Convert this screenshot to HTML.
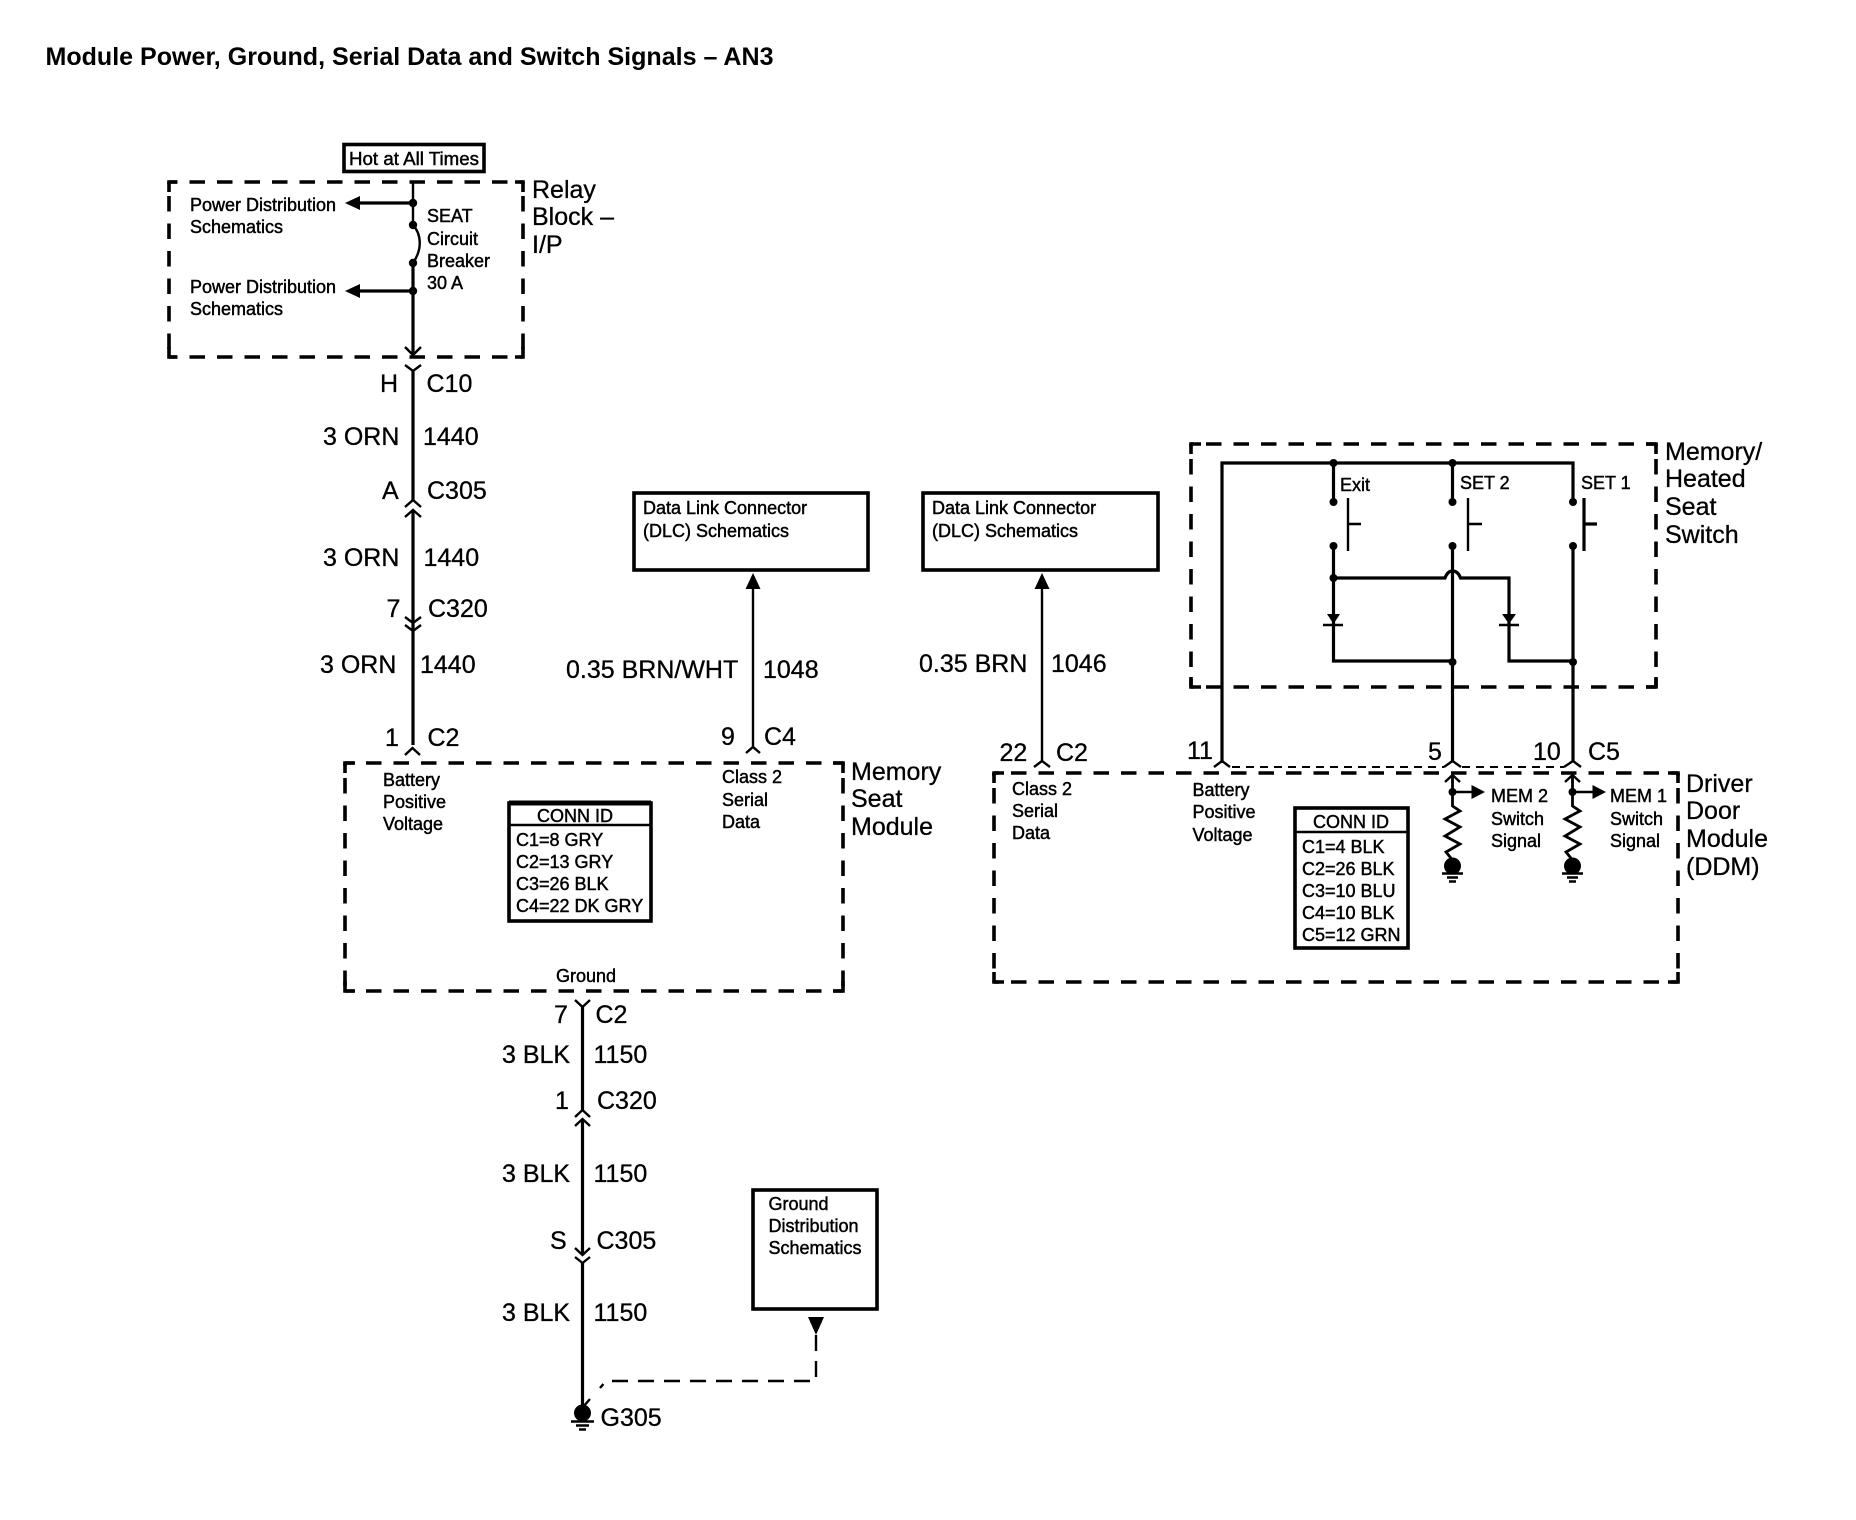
<!DOCTYPE html>
<html><head><meta charset="utf-8"><style>
html,body{margin:0;padding:0;background:#fff}
svg{display:block}
text{font-family:"Liberation Sans",sans-serif;fill:#000}
.l{font-size:25px;stroke:#000;stroke-width:.3}
.s{font-size:18px;stroke:#000;stroke-width:.45}
.w{stroke:#000;stroke-width:3.2;fill:none}
.t{stroke:#000;stroke-width:2.4;fill:none}
.c{stroke:#000;stroke-width:2.4;fill:none}
.d{stroke:#000;stroke-width:3.6;fill:none;stroke-dasharray:15.5 12}
.b{stroke:#000;stroke-width:3.6;fill:none}
</style></head><body>
<svg width="1856" height="1520" viewBox="0 0 1856 1520" xmlns="http://www.w3.org/2000/svg">
<rect width="1856" height="1520" fill="#fff"/>
<text x="45.500" y="65" font-size="25" font-weight="bold" textLength="728" lengthAdjust="spacingAndGlyphs">Module Power, Ground, Serial Data and Switch Signals – AN3</text>

<!-- Relay block -->
<rect x="344" y="144.500" width="140" height="27" class="b"/>
<text class="s" x="349" y="165" textLength="130" lengthAdjust="spacingAndGlyphs">Hot at All Times</text>
<path class="d" stroke-dashoffset="7" d="M169 182H523"/>
<path class="d" stroke-dashoffset="7" d="M169 357H523"/>
<path class="d" stroke-dashoffset="-14" d="M169 182V357"/>
<path class="d" stroke-dashoffset="-14" d="M523 182V357"/>
<path class="b" d="M169 192V182H177M515 182H523V192M169 347V357H177M515 357H523V347"/>
<text class="s" x="190" y="211">Power Distribution</text>
<text class="s" x="190" y="233">Schematics</text>
<text class="s" x="190" y="293">Power Distribution</text>
<text class="s" x="190" y="315">Schematics</text>
<text class="s" x="427" y="222">SEAT</text>
<text class="s" x="427" y="245">Circuit</text>
<text class="s" x="427" y="267">Breaker</text>
<text class="s" x="427" y="289">30 A</text>
<text class="l" x="532" y="198">Relay</text>
<text class="l" x="532" y="225">Block –</text>
<text class="l" x="532" y="253">I/P</text>
<path class="t" d="M413 182V225"/>
<path class="t" d="M413 225C422 235 422 250 413 263"/>
<path class="w" d="M413 263V354"/>
<path class="w" d="M413 203H358M413 291H358"/>
<path d="M345 203L360 196V210ZM345 291L360 284V298Z"/>
<circle cx="413" cy="203" r="4.200"/><circle cx="413" cy="225" r="4.200"/><circle cx="413" cy="263" r="4.200"/><circle cx="413" cy="291" r="4.200"/>
<path class="c" d="M405 347L413 355L421 347M405 365L413 371L421 365"/>

<!-- Left harness upper -->
<path class="w" d="M413 371V500M413 510V745"/>
<path class="c" d="M405 507L413 500L421 507M405 517L413 510L421 517"/>
<path class="c" d="M405 617L413 623L421 617M405 625L413 631L421 625"/>
<path class="c" d="M405 755L412.500 748L420 755"/>
<text class="l" x="380" y="392">H</text><text class="l" x="426.500" y="392">C10</text>
<text class="l" x="323" y="445">3 ORN</text><text class="l" x="423" y="445">1440</text>
<text class="l" x="382" y="499">A</text><text class="l" x="427" y="499">C305</text>
<text class="l" x="323" y="566">3 ORN</text><text class="l" x="423.500" y="566">1440</text>
<text class="l" x="386.500" y="617">7</text><text class="l" x="428" y="617">C320</text>
<text class="l" x="320" y="673">3 ORN</text><text class="l" x="420" y="673">1440</text>
<text class="l" x="385" y="746">1</text><text class="l" x="427.500" y="746">C2</text>

<!-- Memory seat module -->
<path class="d" stroke-dashoffset="-21" d="M345 763H843"/>
<path class="d" stroke-dashoffset="-21" d="M345 991H843"/>
<path class="d" stroke-dashoffset="-15" d="M345 763V991"/>
<path class="d" stroke-dashoffset="-15" d="M843 763V991"/>
<path class="b" d="M345 773V763H355M833 763H843V773M345 981V991H355M833 991H843V981"/>
<text class="s" x="383" y="786">Battery</text><text class="s" x="383" y="808">Positive</text><text class="s" x="383" y="830">Voltage</text>
<text class="s" x="722" y="783">Class 2</text><text class="s" x="722" y="806">Serial</text><text class="s" x="722" y="828">Data</text>
<text class="s" x="556" y="982">Ground</text>
<text class="l" x="851" y="780">Memory</text><text class="l" x="851" y="807">Seat</text><text class="l" x="851" y="835">Module</text>
<rect x="509" y="803" width="142" height="118" class="b"/>
<path d="M509 803H651" stroke="#000" stroke-width="5"/>
<path class="t" d="M509 825H652" stroke-width="3"/>
<text class="s" x="537" y="822">CONN ID</text>
<text class="s" x="516" y="846">C1=8 GRY</text>
<text class="s" x="516" y="868">C2=13 GRY</text>
<text class="s" x="516" y="890">C3=26 BLK</text>
<text class="s" x="516" y="912">C4=22 DK GRY</text>

<!-- DLC 1 -->
<rect x="634" y="493" width="234" height="77" class="b"/>
<text class="s" x="643" y="514">Data Link Connector</text><text class="s" x="643" y="537">(DLC) Schematics</text>
<path d="M753 573L745.500 589H760.500Z"/>
<path class="t" d="M753 585V748"/>
<path class="c" d="M746 753L753 747L760 753"/>
<text class="l" x="566" y="678">0.35 BRN/WHT</text><text class="l" x="763" y="678">1048</text>
<text class="l" x="721" y="745">9</text><text class="l" x="764" y="745">C4</text>

<!-- DLC 2 -->
<rect x="923" y="493" width="235" height="77" class="b"/>
<text class="s" x="932" y="514">Data Link Connector</text><text class="s" x="932" y="537">(DLC) Schematics</text>
<path d="M1042 573L1034.500 589H1049.500Z"/>
<path class="t" d="M1042 585V761"/>
<path class="c" d="M1034 767L1042 761L1050 767"/>
<text class="l" x="919" y="672">0.35 BRN</text><text class="l" x="1051" y="672">1046</text>
<text class="l" x="999.500" y="761">22</text><text class="l" x="1056" y="761">C2</text>

<!-- Lower harness -->
<path class="c" d="M575 1000L582.500 1007L590 1000"/>
<path class="w" d="M582.500 1007V1110M582.500 1119V1255M582.500 1263V1410"/>
<path class="c" d="M575 1117L582.500 1110L590 1117M575 1126L582.500 1119L590 1126"/>
<path class="c" d="M575 1248L582.500 1255L590 1248M575 1257L582.500 1263L590 1257"/>
<text class="l" x="554" y="1023">7</text><text class="l" x="595.500" y="1023">C2</text>
<text class="l" x="502" y="1063">3 BLK</text><text class="l" x="593.500" y="1063">1150</text>
<text class="l" x="555" y="1109">1</text><text class="l" x="597" y="1109">C320</text>
<text class="l" x="502" y="1182">3 BLK</text><text class="l" x="593.500" y="1182">1150</text>
<text class="l" x="550" y="1249">S</text><text class="l" x="596.500" y="1249">C305</text>
<text class="l" x="502" y="1321">3 BLK</text><text class="l" x="593.500" y="1321">1150</text>
<circle cx="582.500" cy="1413" r="8.500"/>
<path class="t" d="M590 1399L583 1407"/>
<path class="t" d="M571 1421.500H594M576 1425.500H589M579 1429.500H586"/>
<text class="l" x="600.500" y="1426">G305</text>
<rect x="753" y="1190" width="124" height="119" class="b"/>
<text class="s" x="768.500" y="1210">Ground</text><text class="s" x="768.500" y="1232">Distribution</text><text class="s" x="768.500" y="1254">Schematics</text>
<path d="M808 1317H824L816 1335Z"/>
<path fill="none" stroke="#000" stroke-width="2.400" stroke-dasharray="16 10" d="M816 1335V1381H606L600 1388"/>

<!-- Memory/Heated seat switch -->
<path class="d" stroke-dashoffset="-15" d="M1191 444H1656"/>
<path class="d" stroke-dashoffset="-15" d="M1191 687H1656"/>
<path class="d" stroke-dashoffset="-15" d="M1191 444V687"/>
<path class="d" stroke-dashoffset="-15" d="M1656 444V687"/>
<path class="b" d="M1191 454V444H1201M1646 444H1656V454M1191 677V687H1201M1646 687H1656V677"/>
<text class="l" x="1665" y="460">Memory/</text><text class="l" x="1665" y="487">Heated</text><text class="l" x="1665" y="515">Seat</text><text class="l" x="1665" y="543">Switch</text>
<path class="w" d="M1222 761V463H1573V502M1333.500 463V502M1452.500 463V502M1333.500 546V661H1452.500M1452.500 546V761M1573 546V761"/>
<path class="w" d="M1333.500 578H1445Q1447.500 571 1452.500 571Q1458 571 1460.500 578H1509V661H1573"/>
<circle cx="1333.500" cy="463" r="4"/><circle cx="1452.500" cy="463" r="4"/>
<circle cx="1333.500" cy="502" r="4"/><circle cx="1452.500" cy="502" r="4"/><circle cx="1573" cy="502" r="4"/>
<circle cx="1333.500" cy="546" r="4"/><circle cx="1452.500" cy="546" r="4"/><circle cx="1573" cy="546" r="4"/>
<circle cx="1333.500" cy="578" r="4"/><circle cx="1452.500" cy="662" r="4"/><circle cx="1573" cy="662" r="4"/>
<path class="t" d="M1468 498V551M1468 524H1482M1348 498V551M1348 524H1361"/>
<path class="w" d="M1584 498V551M1584 524H1597"/>
<path d="M1327 614H1340L1333.500 624ZM1502 614H1516L1509 624Z"/>
<path class="t" d="M1323 625H1343M1499 625H1519"/>
<text class="s" x="1340" y="491">Exit</text><text class="s" x="1460" y="489">SET 2</text><text class="s" x="1581" y="489">SET 1</text>

<!-- DDM -->
<path class="c" d="M1214 767L1222 761L1230 767M1444 767L1452.500 761L1461 767M1564 767L1573 761L1581 767"/>
<path fill="none" stroke="#000" stroke-width="2" stroke-dasharray="8 6" d="M1232 767H1444M1462 767H1564"/>
<path class="d" stroke-dashoffset="-17" d="M994 773H1678"/>
<path class="d" stroke-dashoffset="-17" d="M994 982H1678"/>
<path class="d" stroke-dashoffset="-15" d="M994 773V982"/>
<path class="d" stroke-dashoffset="-15" d="M1678 773V982"/>
<path class="b" d="M994 783V773H1004M1668 773H1678V783M994 972V982H1004M1668 982H1678V972"/>
<text class="l" x="1187" y="759">11</text><text class="l" x="1428" y="760">5</text><text class="l" x="1533" y="760">10</text><text class="l" x="1588" y="760">C5</text>
<text class="s" x="1012" y="795">Class 2</text><text class="s" x="1012" y="817">Serial</text><text class="s" x="1012" y="839">Data</text>
<text class="s" x="1192.500" y="796">Battery</text><text class="s" x="1192.500" y="818">Positive</text><text class="s" x="1192.500" y="841">Voltage</text>
<rect x="1295" y="808" width="113" height="140" class="b"/>
<path class="t" d="M1295 832H1408"/>
<text class="s" x="1313" y="828">CONN ID</text>
<text class="s" x="1302" y="853">C1=4 BLK</text>
<text class="s" x="1302" y="875">C2=26 BLK</text>
<text class="s" x="1302" y="897">C3=10 BLU</text>
<text class="s" x="1302" y="919">C4=10 BLK</text>
<text class="s" x="1302" y="941">C5=12 GRN</text>
<text class="l" x="1686" y="792">Driver</text><text class="l" x="1686" y="819">Door</text><text class="l" x="1686" y="847">Module</text><text class="l" x="1686" y="875">(DDM)</text>

<path fill="none" stroke="#000" stroke-width="2.800" d="M1452.500 775V806L1460 811L1445 819L1460 827L1445 836L1460 844L1446 852L1452.500 860"/>
<path class="c" d="M1445 782L1452.500 775L1460 782"/>
<circle cx="1452.500" cy="792" r="4"/>
<path class="t" d="M1452.500 792H1473"/>
<path d="M1485 792L1471.500 785V799Z"/>
<circle cx="1452.500" cy="866" r="8.500"/>
<path class="t" d="M1442 873.500H1463M1447 877.500H1458M1449 881.500H1456"/>
<text class="s" x="1491" y="802">MEM 2</text><text class="s" x="1491" y="825">Switch</text><text class="s" x="1491" y="847">Signal</text>

<path fill="none" stroke="#000" stroke-width="2.800" d="M1572.500 775V806L1580 811L1565 819L1580 827L1565 836L1580 844L1566 852L1572.500 860"/>
<path class="c" d="M1565 782L1572.500 775L1580 782"/>
<circle cx="1572.500" cy="792" r="4"/>
<path class="t" d="M1572.500 792H1593"/>
<path d="M1606 792L1592.500 785V799Z"/>
<circle cx="1572.500" cy="866" r="8.500"/>
<path class="t" d="M1562 873.500H1583M1567 877.500H1578M1569 881.500H1576"/>
<text class="s" x="1610" y="802">MEM 1</text><text class="s" x="1610" y="825">Switch</text><text class="s" x="1610" y="847">Signal</text>
</svg>
</body></html>
